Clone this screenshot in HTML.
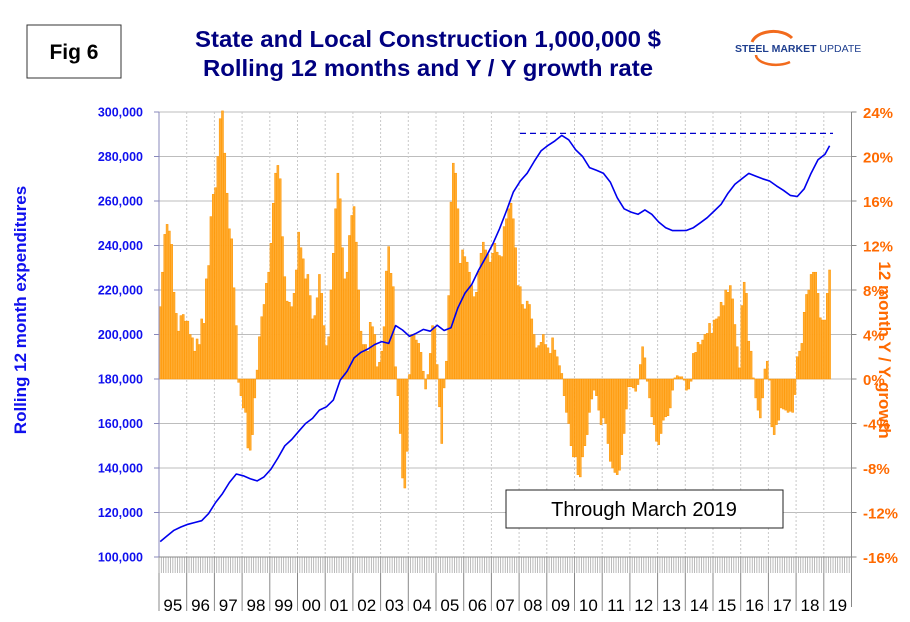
<!DOCTYPE html>
<html><head><meta charset="utf-8">
<style>
body{margin:0;background:#fff;}
#wrap{position:relative;width:910px;height:622px;overflow:hidden;font-family:"Liberation Sans",Arial,sans-serif;}
</style></head>
<body>
<div id="wrap">
<svg id="chart" width="910" height="622" xmlns="http://www.w3.org/2000/svg">
  <rect x="27" y="25" width="94" height="53" fill="#fff" stroke="#333" stroke-width="1"/>
  <text x="74" y="59" text-anchor="middle" font-size="21" font-weight="bold" fill="#000">Fig 6</text>
  <text x="428" y="47" text-anchor="middle" font-size="23" font-weight="bold" fill="#000080" textLength="466" lengthAdjust="spacingAndGlyphs">State and Local Construction 1,000,000 $</text>
  <text x="428" y="76" text-anchor="middle" font-size="23" font-weight="bold" fill="#000080" textLength="450" lengthAdjust="spacingAndGlyphs">Rolling 12 months and Y / Y growth rate</text>
  <g>
    <path d="M752 42 A22 14 0 0 1 792 38" fill="none" stroke="#f26b1d" stroke-width="3"/>
    <path d="M756 55 A20 10 0 0 0 790 62" fill="none" stroke="#f26b1d" stroke-width="2.5"/>
    <text x="735" y="52" font-size="10.5" font-weight="bold" fill="#1f3f8f">STEEL <tspan font-weight="bold">MARKET</tspan> <tspan font-weight="normal">UPDATE</tspan></text>
  </g>
  <g id="grid"></g>
  <g id="bars"></g>
  <g id="lineg"></g>
  <g id="axes"></g>
  <rect x="506" y="490" width="277" height="38" fill="#fff" stroke="#222" stroke-width="1"/>
  <text x="644" y="516" text-anchor="middle" font-size="20" fill="#000">Through March 2019</text>
  <text transform="translate(26,310) rotate(-90)" text-anchor="middle" font-size="17" font-weight="bold" fill="#1010ee">Rolling 12 month expenditures</text>
  <text transform="translate(879,350) rotate(90)" text-anchor="middle" font-size="17" font-weight="bold" fill="#ff6a00">12 month Y / Y growth</text>
</svg>
</div>
<script>
const yearLabels=["95","96","97","98","99","00","01","02","03","04","05","06","07","08","09","10","11","12","13","14","15","16","17","18","19"];
const leftTicks=[100000,120000,140000,160000,180000,200000,220000,240000,260000,280000,300000];
const rightTicks=[-16,-12,-8,-4,0,4,8,12,16,20,24];
const growth=[
6.5,9.6,13.0,13.9,13.3,12.1,7.8,5.9,4.3,5.7,5.8,5.2,
5.2,4.0,3.7,2.5,3.6,3.1,5.4,5.0,9.0,10.2,14.6,16.6,
17.2,20.0,23.4,24.1,20.3,16.7,13.5,12.6,8.2,4.8,-0.3,-1.5,
-2.6,-3.0,-6.2,-6.4,-5.0,-1.7,0.8,3.8,5.6,6.7,8.6,9.6,
12.2,15.8,18.5,19.2,18.0,12.8,9.2,7.0,6.9,6.5,7.7,9.8,
13.2,11.8,10.8,9.0,9.4,7.5,5.4,5.7,7.3,9.4,7.7,4.8,
3.0,3.8,8.0,11.3,15.3,18.5,16.2,11.8,9.0,9.6,12.9,14.7,
15.5,12.3,8.0,4.3,3.1,3.1,2.5,5.1,4.7,4.0,1.1,1.5,
2.5,4.7,9.7,11.9,9.5,8.3,1.1,-1.5,-4.9,-8.9,-9.8,-6.5,
0.4,4.0,4.0,3.5,3.2,2.4,0.7,-0.9,0.4,2.3,4.8,4.7,
1.3,-2.5,-5.8,-0.8,1.6,7.5,15.9,19.4,18.5,15.3,10.4,11.6,
11.0,10.5,9.6,8.4,7.4,7.8,9.7,11.3,12.3,11.6,11.2,10.5,
11.3,12.2,11.4,11.1,11.0,13.7,14.4,15.3,15.8,14.4,11.8,8.4,
8.3,6.7,6.3,7.0,6.7,5.4,4.0,2.8,3.0,3.3,4.0,3.1,
2.8,2.3,3.7,2.6,2.0,1.2,0.5,-1.5,-3.0,-4.0,-6.0,-7.0,
-7.0,-8.6,-8.8,-7.0,-6.0,-5.0,-3.0,-1.8,-1.0,-1.5,-2.8,-4.1,
-3.5,-4.0,-5.8,-7.4,-8.0,-8.4,-8.6,-8.2,-6.8,-4.9,-2.7,-0.7,
-0.7,-0.8,-1.1,-0.5,1.3,2.9,1.9,-0.2,-1.7,-3.4,-4.1,-5.6,
-5.9,-4.9,-3.7,-3.4,-3.3,-2.6,-1.0,0.1,0.3,0.2,0.2,-0.1,
-1.0,-0.9,-0.2,2.3,2.4,3.3,3.1,3.5,4.0,4.1,5.0,4.1,
5.3,5.4,5.6,6.9,6.6,8.0,7.8,8.4,7.2,4.9,2.9,1.0,
6.6,8.7,7.7,3.4,2.5,0.1,-1.7,-2.8,-3.5,-1.7,0.9,1.6,
-0.1,-4.3,-5.0,-4.1,-3.7,-2.6,-2.7,-2.8,-3.0,-2.9,-3.0,-1.4,
2.0,2.5,3.2,6.0,7.6,8.0,9.4,9.6,9.6,7.7,5.5,5.3,
5.3,7.7,9.8];
const rollingMonths=[0,3,6,9,12,15,18,21,24,27,30,33,36,39,42,45,48,51,54,57,60,63,66,69,72,75,78,81,84,87,90,93,96,99,102,105,108,111,114,117,120,123,126,129,132,135,138,141,144,147,150,153,156,159,162,165,168,171,174,177,180,183,186,189,192,195,198,201,204,207,210,213,216,219,222,225,228,231,234,237,240,243,246,249,252,255,258,261,264,267,270,273,276,279,282,285,288,290];
const rollingK=[106.9,109.5,112.0,113.5,114.7,115.5,116.3,119.5,124.5,128.5,133.5,137.3,136.5,135.2,134.2,136.0,139.5,144.5,150.0,152.8,156.5,160.0,162.3,166.0,167.5,170.5,179.5,183.5,189.5,192.0,193.5,195.5,196.8,196.0,204.0,202.0,199.2,200.6,202.3,201.5,204.2,201.8,203.0,212.0,218.5,222.5,229.0,234.5,240.5,247.5,255.5,264.0,269.0,272.5,277.7,282.5,285.0,287.0,289.5,287.5,283.0,280.0,275.0,273.8,272.5,268.5,261.5,256.5,255.0,254.0,256.0,254.0,250.5,248.0,246.7,246.7,246.8,248.0,250.2,252.5,255.5,258.5,263.5,267.5,270.0,272.4,271.2,270.0,269.0,266.8,264.8,262.5,262.0,265.5,272.5,278.5,281.0,284.8];
const peakK=[290.4];

const NS="http://www.w3.org/2000/svg";
const X0=159,X1=851.5,YT=112,YB=557;
const nMonths=yearLabels.length*12;
const mw=(X1-X0)/nMonths;
function xM(m){return X0+m*mw;}
function yL(v){return YB-(v-100000)/200000*(YB-YT);}
function yR(p){return YB-(p+16)/40*(YB-YT);}
function mk(tag,attrs,parent){const e=document.createElementNS(NS,tag);for(const k in attrs)e.setAttribute(k,attrs[k]);parent.appendChild(e);return e;}
const grid=document.getElementById('grid'),bars=document.getElementById('bars'),lineg=document.getElementById('lineg'),axes=document.getElementById('axes');

leftTicks.forEach((t,i)=>{
  const y=yL(t);
  const g=mk('line',{x1:X0,x2:X1,y1:y,y2:y,stroke:'#bdbdbd','stroke-width':1},grid);
  
  
  const tk=mk('line',{x1:X0-5,x2:X0,y1:y,y2:y,stroke:'#8888bb','stroke-width':1},axes);
  
  
  const lb=mk('text',{x:X0-16,y:y+4.5,'text-anchor':'end','font-size':12.5,'font-weight':'bold',fill:'#1010ee'},axes);
  lb.textContent=t.toLocaleString('en-US');
  
  
});
rightTicks.forEach(p=>{
  const y=yR(p);
  const tk=mk('line',{x1:X1,x2:X1+5,y1:y,y2:y,stroke:'#888','stroke-width':1},axes);
  
  
  const lb=mk('text',{x:863,y:y+6,'font-size':15,'font-weight':'bold',fill:'#ff6a00'},axes);
  lb.textContent=p+'%';
  
  
});
yearLabels.forEach((yl,i)=>{
  const x=xM(i*12);
  if(i>0){
    const v=mk('line',{x1:x,x2:x,y1:YT,y2:YB,stroke:'#c8c8c8','stroke-width':1,'stroke-dasharray':'2,2'},grid);
    
    
  }
  const s=mk('line',{x1:x,x2:x,y1:YB,y2:611,stroke:'#888','stroke-width':1},axes);
  
  
  const lb=mk('text',{x:x+mw*6,y:611,'text-anchor':'middle','font-size':17,fill:'#000'},axes);
  lb.textContent=yl;
  
  
});
for(let m=0;m<nMonths;m++){
  const x=xM(m);
  const t=mk('line',{x1:x,x2:x,y1:YB,y2:573,stroke:'#aaa','stroke-width':0.8},axes);
  
  
}
growth.forEach((g,m)=>{
  const y0=yR(0),y=yR(g);
  const r=mk('rect',{x:xM(m)+0.15,y:Math.min(y,y0),width:mw-0.3,height:Math.abs(y-y0),fill:'#ffad33',stroke:'#ff9500','stroke-width':0.5},bars);
  
  
});
const pts=rollingK.map((v,i)=>xM(rollingMonths[i]+0.5).toFixed(1)+','+yL(v*1000).toFixed(1)).join(' ');
const pl=mk('polyline',{points:pts,fill:'none',stroke:'#0000ee','stroke-width':1.6,'stroke-linejoin':'round'},lineg);


const dl=mk('line',{x1:520,x2:833,y1:yL(peakK[0]*1000),y2:yL(peakK[0]*1000),stroke:'#0000cc','stroke-width':1.3,'stroke-dasharray':'6,4'},lineg);


const la=mk('line',{x1:X0,x2:X0,y1:YT,y2:YB,stroke:'#8888bb','stroke-width':1},axes);


const ra=mk('line',{x1:X1,x2:X1,y1:YT,y2:YB+50,stroke:'#888','stroke-width':1},axes);


const ba=mk('line',{x1:X0,x2:X1,y1:YB,y2:YB,stroke:'#888','stroke-width':1},axes);


</script>
</body></html>
